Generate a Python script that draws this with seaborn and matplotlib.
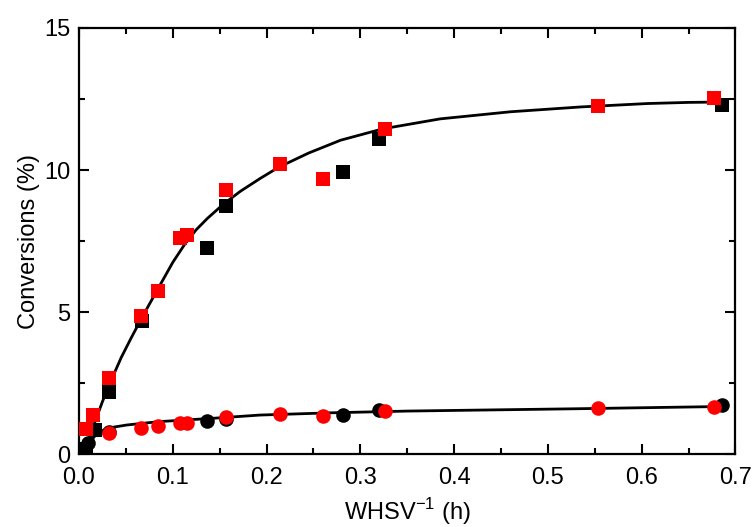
import numpy as np
import pandas as pd
import seaborn as sns
import matplotlib.pyplot as plt

sns.set_style("ticks")
plt.rcParams['font.family'] = ['Liberation Sans', 'DejaVu Sans']
plt.rcParams['mathtext.fontset'] = 'custom'
plt.rcParams['mathtext.rm'] = 'Liberation Sans'
plt.rcParams['text.color'] = 'black'
plt.rcParams['axes.labelcolor'] = 'black'

# squares (upper data set)
black_sq_x = [0.007, 0.017, 0.032, 0.067, 0.136, 0.157, 0.282, 0.320, 0.686]
black_sq_y = [0.2, 0.85, 2.2, 4.7, 7.25, 8.75, 9.93, 11.08, 12.3]
red_sq_x = [0.008, 0.015, 0.032, 0.066, 0.084, 0.108, 0.115, 0.157, 0.214, 0.260, 0.326, 0.553, 0.677]
red_sq_y = [0.9, 1.37, 2.7, 4.85, 5.73, 7.62, 7.73, 9.3, 10.2, 9.69, 11.43, 12.24, 12.55]

# circles (lower data set)
black_ci_x = [0.006, 0.010, 0.032, 0.136, 0.157, 0.282, 0.320, 0.686]
black_ci_y = [0.15, 0.4, 0.78, 1.18, 1.25, 1.38, 1.55, 1.73]
red_ci_x = [0.032, 0.066, 0.084, 0.108, 0.115, 0.157, 0.214, 0.260, 0.326, 0.553, 0.677]
red_ci_y = [0.75, 0.92, 0.98, 1.10, 1.10, 1.30, 1.40, 1.36, 1.52, 1.62, 1.67]

# fitted curves
fit_up_x = [0.007, 0.015, 0.025, 0.035, 0.045, 0.055, 0.067, 0.083, 0.100, 0.113, 0.125,
            0.137, 0.154, 0.172, 0.193, 0.213, 0.245, 0.279, 0.324, 0.385, 0.46, 0.535,
            0.606, 0.650, 0.677, 0.690]
fit_up_y = [0.2, 0.95, 1.85, 2.65, 3.4, 4.05, 4.8, 5.75, 6.75, 7.4, 7.9,
            8.3, 8.8, 9.25, 9.7, 10.1, 10.6, 11.05, 11.45, 11.8, 12.05, 12.22,
            12.34, 12.38, 12.39, 12.36]
fit_lo_x = [0.006, 0.012, 0.018, 0.026, 0.036, 0.051, 0.086, 0.140, 0.193, 0.270, 0.350, 0.527, 0.684]
fit_lo_y = [0.15, 0.45, 0.68, 0.85, 0.95, 1.03, 1.15, 1.26, 1.38, 1.46, 1.52, 1.60, 1.68]

fig = plt.figure(figsize=(7.52, 5.27), dpi=100)
ax = fig.add_axes([0.105, 0.138, 0.873, 0.809])

sns.lineplot(x=fit_up_x, y=fit_up_y, sort=False, color='black', lw=2, ax=ax, zorder=3)
sns.lineplot(x=fit_lo_x, y=fit_lo_y, sort=False, color='black', lw=2, ax=ax, zorder=3)

sns.scatterplot(x=black_sq_x, y=black_sq_y, marker='s', s=95, color='black', linewidth=0, ax=ax, zorder=4)
sns.scatterplot(x=black_ci_x, y=black_ci_y, marker='o', s=110, color='black', linewidth=0, ax=ax, zorder=4)
sns.scatterplot(x=red_sq_x, y=red_sq_y, marker='s', s=95, color='#ff0000', linewidth=0, ax=ax, zorder=5)
sns.scatterplot(x=red_ci_x, y=red_ci_y, marker='o', s=110, color='#ff0000', linewidth=0, ax=ax, zorder=5)

ax.set_xlim(0, 0.7)
ax.set_ylim(0, 15)
ax.set_xticks(np.arange(0, 0.71, 0.1))
ax.set_xticks(np.arange(0.05, 0.7, 0.1), minor=True)
ax.set_yticks([0, 5, 10, 15])
ax.set_yticks([2.5, 7.5, 12.5], minor=True)
ax.set_xticklabels(['0.0', '0.1', '0.2', '0.3', '0.4', '0.5', '0.6', '0.7'])
ax.tick_params(which='both', direction='in', top=True, right=True, width=1.5, labelsize=17,
               colors='black', labelcolor='black')
ax.tick_params(which='major', length=7)
ax.tick_params(axis='x', which='major', pad=9)
ax.tick_params(axis='y', which='major', pad=6)
ax.tick_params(which='minor', length=4)
for s in ax.spines.values():
    s.set_linewidth(1.6)
    s.set_color('black')

ax.set_xlabel('WHSV$^{-1}$ (h)', fontsize=17, labelpad=5)
ax.set_ylabel('Conversions (%)', fontsize=17, labelpad=3)

fig.savefig('out.png', dpi=100)
